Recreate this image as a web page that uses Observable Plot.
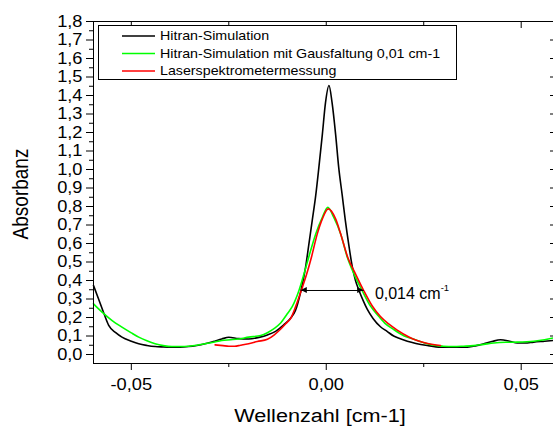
<!DOCTYPE html>
<html><head><meta charset="utf-8">
<script src="https://cdn.jsdelivr.net/npm/d3@7"></script>
<script src="https://cdn.jsdelivr.net/npm/@observablehq/plot@0.6"></script>
<style>
html,body{margin:0;padding:0;background:#fff;overflow:hidden;width:553px;height:428px;}
#chart svg{display:block;max-width:none !important;}
</style></head><body><div id="chart"></div>
<script>
// ---- data ----
const hitranX = [-0.0597,-0.0584,-0.0570,-0.0558,-0.0540,-0.0524,-0.0500,-0.0481,-0.0460,-0.0439,-0.0418,-0.0396,-0.0375,-0.0353,-0.0332,-0.0311,-0.0290,-0.0268,-0.0250,-0.0225,-0.0199,-0.0170,-0.0151,-0.0130,-0.0109,-0.0090,-0.0079,-0.0066,-0.0053,-0.0045,-0.0036,-0.0027,-0.0019,-0.0010,-0.0002,0.0007,0.0015,0.0024,0.0032,0.0041,0.0049,0.0058,0.0067,0.0075,0.0084,0.0095,0.0105,0.0120,0.0139,0.0156,0.0173,0.0190,0.0208,0.0230,0.0259,0.0293,0.0330,0.0362,0.0385,0.0404,0.0425,0.0447,0.0470,0.0490,0.0510,0.0532,0.0560,0.0588];
const hitranY = [0.373,0.300,0.220,0.157,0.118,0.094,0.072,0.058,0.049,0.043,0.041,0.040,0.040,0.043,0.049,0.058,0.070,0.084,0.093,0.086,0.084,0.094,0.106,0.125,0.160,0.200,0.238,0.335,0.472,0.590,0.724,0.860,1.010,1.190,1.360,1.454,1.360,1.190,1.010,0.860,0.724,0.590,0.472,0.400,0.346,0.290,0.245,0.195,0.150,0.125,0.100,0.085,0.072,0.060,0.049,0.040,0.039,0.040,0.048,0.058,0.070,0.080,0.072,0.062,0.062,0.067,0.072,0.077];

const gaussX = [-0.0597,-0.0575,-0.0550,-0.0524,-0.0500,-0.0481,-0.0460,-0.0439,-0.0418,-0.0396,-0.0375,-0.0353,-0.0332,-0.0311,-0.0290,-0.0268,-0.0245,-0.0225,-0.0199,-0.0168,-0.0151,-0.0134,-0.0117,-0.0100,-0.0087,-0.0070,-0.0057,-0.0045,-0.0027,-0.0010,0.0004,0.0019,0.0037,0.0054,0.0071,0.0092,0.0114,0.0131,0.0150,0.0173,0.0200,0.0225,0.0250,0.0276,0.0300,0.0327,0.0352,0.0378,0.0404,0.0430,0.0460,0.0490,0.0532,0.0560,0.0588];
const gaussY = [0.274,0.229,0.185,0.148,0.117,0.094,0.074,0.058,0.048,0.043,0.043,0.045,0.050,0.058,0.066,0.076,0.080,0.084,0.094,0.103,0.118,0.140,0.170,0.220,0.260,0.346,0.436,0.526,0.652,0.742,0.796,0.742,0.652,0.526,0.436,0.346,0.260,0.215,0.170,0.135,0.100,0.082,0.064,0.050,0.045,0.043,0.045,0.048,0.055,0.062,0.066,0.067,0.072,0.080,0.092];

const laserX = [-0.0285,-0.0265,-0.0250,-0.0235,-0.0220,-0.0199,-0.0177,-0.0151,-0.0134,-0.0118,-0.0104,-0.0090,-0.0079,-0.0064,-0.0050,-0.0038,-0.0023,-0.0010,0.0005,0.0024,0.0037,0.0055,0.0075,0.0096,0.0118,0.0139,0.0160,0.0182,0.0212,0.0233,0.0260,0.0293];
const laserY = [0.052,0.048,0.045,0.045,0.050,0.058,0.070,0.082,0.105,0.135,0.166,0.200,0.256,0.346,0.436,0.526,0.652,0.733,0.787,0.733,0.652,0.526,0.436,0.346,0.262,0.205,0.165,0.132,0.095,0.076,0.060,0.049];

const seriesNames = ["Hitran-Simulation","Hitran-Simulation mit Gausfaltung 0,01 cm-1","Laserspektrometermessung"];
const seriesColors = ["#000000","#00ff00","#ff0000"];

const yTicks = [0,0.1,0.2,0.3,0.4,0.5,0.6,0.7,0.8,0.9,1.0,1.1,1.2,1.3,1.4,1.5,1.6,1.7,1.8];
const yTickLabels = ["0,0","0,1","0,2","0,3","0,4","0,5","0,6","0,7","0,8","0,9","1,0","1,1","1,2","1,3","1,4","1,5","1,6","1,7","1,8"];
const yMinor = [0.05,0.15,0.25,0.35,0.45,0.55,0.65,0.75,0.85,0.95,1.05,1.15,1.25,1.35,1.45,1.55,1.65,1.75];
const xTicks = [-0.05,0,0.05];
const xTickLabels = ["-0,05","0,00","0,05"];
const xMinor = [-0.025,0.025];

const xLabel = "Wellenzahl [cm-1]";
const yLabel = "Absorbanz";
const fwhm = {x1:-0.0064, x2:0.0096, y:0.346, label:"0,014 cm", sup:"-1", labelX:0.0126, labelY:0.327};

// ---- layout ----
const FONT = "'Liberation Sans', Arial, Helvetica, sans-serif";
const STRETCH = 1.14;
const W = 560, H = 428, mL = 93, mR = 5, mT = 21, mB = 65;
const fw = W - mL - mR, fh = H - mT - mB;

const hitran = hitranX.map((x, i) => ({x, y: hitranY[i]}));
const gauss = gaussX.map((x, i) => ({x, y: gaussY[i]}));
const laser = laserX.map((x, i) => ({x, y: laserY[i]}));

const plot = Plot.plot({
  width: W, height: H,
  marginLeft: mL, marginRight: mR, marginTop: mT, marginBottom: mB,
  style: {fontFamily: FONT, background: "white", color: "black", overflow: "visible"},
  x: {domain: [-0.0597, 0.0588]},
  y: {domain: [-0.0486, 1.8]},
  marks: [
    Plot.line(hitran, {x: "x", y: "y", stroke: seriesColors[0], strokeWidth: 1.6, curve: "monotone-x"}),
    Plot.line(gauss, {x: "x", y: "y", stroke: seriesColors[1], strokeWidth: 1.6, curve: "monotone-x"}),
    Plot.line(laser, {x: "x", y: "y", stroke: seriesColors[2], strokeWidth: 1.6, curve: "monotone-x"}),
    Plot.link([fwhm], {x1: "x1", x2: "x2", y1: "y", y2: "y", stroke: "black", strokeWidth: 1}),
    Plot.axisY(yTicks, {anchor: "left", tickSize: 7, tickPadding: 4, fontSize: 16, label: null, stroke: "black",
      tickFormat: d => yTickLabels[yTicks.indexOf(d)]}),
    Plot.axisY(yMinor, {anchor: "left", tickSize: 4, label: null, stroke: "black", tickFormat: () => ""}),
    Plot.axisX(xTicks, {anchor: "bottom", tickSize: 7, tickPadding: 8, fontSize: 16, label: null, stroke: "black",
      tickFormat: d => xTickLabels[xTicks.indexOf(d)]}),
    Plot.axisX(xMinor, {anchor: "bottom", tickSize: 4, label: null, stroke: "black", tickFormat: () => ""}),
    Plot.tickX(xTicks, {x: d => d, insetBottom: fh - 7, stroke: "black"}),
    Plot.tickX(xMinor, {x: d => d, insetBottom: fh - 5, stroke: "black"}),
    Plot.tickY(yTicks, {y: d => d, insetLeft: fw - 5, stroke: "black"}),
    Plot.frame({stroke: "black", strokeWidth: 1})
  ]
});
plot.style.maxWidth = "none";
document.getElementById("chart").appendChild(plot);

const svg = d3.select(plot);
const sx = plot.scale("x"), sy = plot.scale("y");
const X = v => sx.apply(v), Y = v => sy.apply(v);

// arrow heads for FWHM marker
const ay = Y(fwhm.y);
const ann = svg.append("g").attr("class", "annotation");
ann.append("path").attr("d", `M${X(fwhm.x1)},${ay}l6,-3l0,6z`).attr("fill", "black");
ann.append("path").attr("d", `M${X(fwhm.x2)},${ay}l-6,-3l0,6z`).attr("fill", "black");
const at = ann.append("text").attr("class", "nostretch")
  .attr("transform", `translate(${X(fwhm.labelX)},${Y(fwhm.labelY)})`)
  .attr("text-anchor", "start")
  .attr("dy", "0.35em").attr("font-size", 16).attr("font-family", FONT).attr("fill", "black");
at.append("tspan").text(fwhm.label);
at.append("tspan").attr("font-size", 9.5).attr("dy", "-0.9em").text(fwhm.sup);

// axis titles
svg.append("text").attr("transform", `translate(${mL + fw / 2 - 4},422)`)
  .attr("text-anchor", "middle").attr("font-size", 19).attr("font-family", FONT).attr("fill", "black").text(xLabel);
svg.append("text").attr("transform", `translate(28,${mT + fh / 2 + 2}) rotate(-90)`)
  .attr("text-anchor", "middle").attr("font-size", 19).attr("font-family", FONT).attr("fill", "black").text(yLabel);

// legend
const lg = svg.append("g").attr("class", "legend");
lg.append("rect").attr("x", 98.5).attr("y", 25.5).attr("width", 358).attr("height", 54)
  .attr("fill", "white").attr("stroke", "black").attr("stroke-width", 1);
const rowY = [36, 53.5, 71];
seriesNames.forEach((name, i) => {
  lg.append("line").attr("x1", 122).attr("x2", 155).attr("y1", rowY[i]).attr("y2", rowY[i])
    .attr("stroke", seriesColors[i]).attr("stroke-width", 1.6);
  lg.append("text").attr("transform", `translate(160,${rowY[i]})`).attr("dy", "0.35em")
    .attr("text-anchor", "start")
    .attr("font-size", 12.5).attr("font-family", FONT).attr("fill", "black").text(name);
});

// horizontal stretch of the lettering as in the reference
svg.selectAll("text").each(function () {
  if (this.classList.contains("nostretch")) return;
  const t = this.getAttribute("transform") || "";
  const rotated = /rotate/.test(t);
  this.setAttribute("transform", t + (rotated ? ` scale(1,${STRETCH})` : ` scale(${STRETCH},1)`));
});
</script></body></html>
